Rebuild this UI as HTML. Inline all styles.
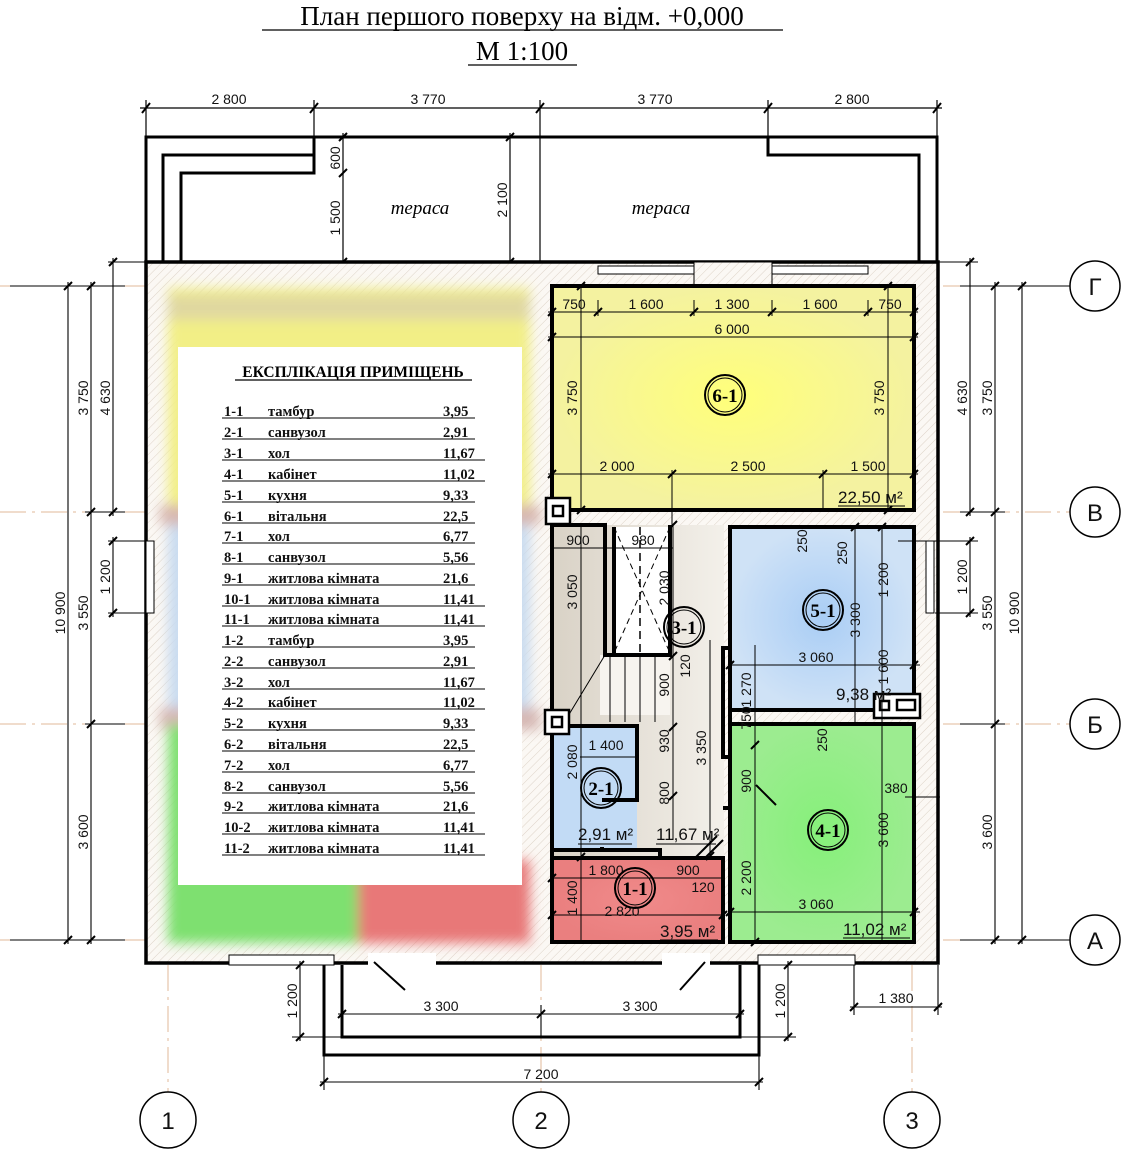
<!DOCTYPE html>
<html><head><meta charset="utf-8">
<style>
html,body{margin:0;padding:0;background:#fff;}
svg{display:block;}
.d{font-family:"Liberation Sans",sans-serif;font-size:14px;fill:#111;}
.t{font-family:"Liberation Serif",serif;font-weight:bold;font-size:14.5px;fill:#111;}
.ax{font-family:"Liberation Sans",sans-serif;font-size:24px;fill:#111;}
</style></head>
<body>
<svg width="1125" height="1164" viewBox="0 0 1125 1164" xmlns="http://www.w3.org/2000/svg">
<defs>
<pattern id="h" width="6" height="6" patternUnits="userSpaceOnUse" patternTransform="rotate(45)">
<rect width="6" height="6" fill="#fbf8f4"/><line x1="0" y1="0" x2="0" y2="6" stroke="#ddd3c8" stroke-width="1"/>
</pattern>
<filter id="bl"><feGaussianBlur stdDeviation="6"/></filter>
<radialGradient id="yg"><stop offset="0" stop-color="#ffff7a"/><stop offset="1" stop-color="#f4f2a0"/></radialGradient>
<radialGradient id="bg"><stop offset="0" stop-color="#a9cdf5"/><stop offset="1" stop-color="#cfe2f6"/></radialGradient>
<radialGradient id="gg"><stop offset="0" stop-color="#86f07a"/><stop offset="1" stop-color="#9cec90"/></radialGradient>
<radialGradient id="rg"><stop offset="0" stop-color="#f08a8a"/><stop offset="1" stop-color="#ea7f7f"/></radialGradient>
<linearGradient id="hg" x1="0" x2="1"><stop offset="0" stop-color="#d9d2c6"/><stop offset="1" stop-color="#f3f0ea"/></linearGradient>
</defs>

<!-- Title -->
<text x="522" y="25" text-anchor="middle" font-family="Liberation Serif,serif" font-size="27">План першого поверху на відм. +0,000</text>
<line x1="262" y1="30" x2="783" y2="30" stroke="#000" stroke-width="1.3"/>
<text x="522" y="60" text-anchor="middle" font-family="Liberation Serif,serif" font-size="27">М 1:100</text>
<line x1="468" y1="65" x2="577" y2="65" stroke="#000" stroke-width="1.3"/>

<g stroke="#000" fill="none" stroke-width="1.2">
<line x1="140" y1="108" x2="942" y2="108"/>
<line x1="146" y1="100" x2="146" y2="137"/><line x1="314" y1="100" x2="314" y2="137"/><line x1="540" y1="100" x2="540" y2="262"/><line x1="768" y1="100" x2="768" y2="137"/><line x1="937" y1="100" x2="937" y2="137"/>
<path d="M142 113L150 103M310 113L318 103M536 113L544 103M764 113L772 103M933 113L941 103" stroke-width="2"/>
</g>
<g class="d" text-anchor="middle"><text x="229" y="104">2 800</text><text x="428" y="104">3 770</text><text x="655" y="104">3 770</text><text x="852" y="104">2 800</text></g>

<!-- terrace -->
<g stroke="#000" fill="none" stroke-width="3">
<path d="M146 262V137H937V262"/>
<path d="M163 262V155H314V137"/>
<path d="M181 262V173H314V155"/>
<path d="M768 137V155H919V262"/>
</g>
<g stroke="#000" stroke-width="1.2" fill="none">
<line x1="343" y1="133" x2="343" y2="262"/><path d="M339 177L347 169M339 141L347 133M339 266L347 258" stroke-width="2"/>
<line x1="510" y1="133" x2="510" y2="262"/><path d="M506 141L514 133M506 266L514 258" stroke-width="2"/>
</g>
<g class="d"><text transform="translate(340,158) rotate(-90)" text-anchor="middle">600</text><text transform="translate(340,218) rotate(-90)" text-anchor="middle">1 500</text><text transform="translate(507,200) rotate(-90)" text-anchor="middle">2 100</text></g>
<text x="420" y="214" text-anchor="middle" font-family="Liberation Serif,serif" font-style="italic" font-size="19">тераса</text>
<text x="661" y="214" text-anchor="middle" font-family="Liberation Serif,serif" font-style="italic" font-size="19">тераса</text>

<!-- axis lines -->
<g stroke="#e2b99a" stroke-width="1" stroke-dasharray="26 6 3 6">
<line x1="0" y1="286" x2="1070" y2="286"/><line x1="0" y1="512" x2="1070" y2="512"/><line x1="0" y1="724" x2="1070" y2="724"/><line x1="0" y1="940" x2="1070" y2="940"/>
<line x1="168" y1="965" x2="168" y2="1092"/><line x1="541" y1="965" x2="541" y2="1092"/><line x1="912" y1="965" x2="912" y2="1092"/>
</g>

<!-- building base -->
<rect x="146" y="262" width="792" height="701" fill="url(#h)"/>
<rect x="146" y="262" width="792" height="701" fill="none" stroke="#000" stroke-width="3.5"/>

<!-- left blurred half -->
<g filter="url(#bl)">
<rect x="168" y="288" width="362" height="222" fill="#f2ef86"/>
<rect x="168" y="520" width="362" height="195" fill="#c9dbf0"/>
<rect x="160" y="505" width="380" height="20" fill="#d8b8b0"/>
<rect x="160" y="708" width="380" height="22" fill="#d6b8b4"/>
<rect x="168" y="725" width="190" height="218" fill="#7ee070"/>
<rect x="358" y="860" width="172" height="83" fill="#e87878"/>
<rect x="168" y="295" width="362" height="25" fill="#e0d8a0"/>
</g>
<rect x="146" y="541" width="8" height="72" fill="#fff" stroke="#000" stroke-width="1"/>

<!-- explication table -->
<rect x="178" y="347" width="344" height="538" fill="#fff"/>
<text x="353" y="377" text-anchor="middle" font-family="Liberation Serif,serif" font-weight="bold" font-size="15.5">ЕКСПЛІКАЦІЯ ПРИМІЩЕНЬ</text>
<line x1="235" y1="380" x2="472" y2="380" stroke="#000" stroke-width="1.2"/>
<g class="t">
<text x="224" y="416">1-1</text><text x="268" y="416">тамбур</text><text x="443" y="416">3,95</text>
<text x="224" y="437">2-1</text><text x="268" y="437">санвузол</text><text x="443" y="437">2,91</text>
<text x="224" y="458">3-1</text><text x="268" y="458">хол</text><text x="443" y="458">11,67</text>
<text x="224" y="479">4-1</text><text x="268" y="479">кабінет</text><text x="443" y="479">11,02</text>
<text x="224" y="500">5-1</text><text x="268" y="500">кухня</text><text x="443" y="500">9,33</text>
<text x="224" y="521">6-1</text><text x="268" y="521">вітальня</text><text x="443" y="521">22,5</text>
<text x="224" y="541">7-1</text><text x="268" y="541">хол</text><text x="443" y="541">6,77</text>
<text x="224" y="562">8-1</text><text x="268" y="562">санвузол</text><text x="443" y="562">5,56</text>
<text x="224" y="583">9-1</text><text x="268" y="583">житлова кімната</text><text x="443" y="583">21,6</text>
<text x="224" y="604">10-1</text><text x="268" y="604">житлова кімната</text><text x="443" y="604">11,41</text>
<text x="224" y="624">11-1</text><text x="268" y="624">житлова кімната</text><text x="443" y="624">11,41</text>
<text x="224" y="645">1-2</text><text x="268" y="645">тамбур</text><text x="443" y="645">3,95</text>
<text x="224" y="666">2-2</text><text x="268" y="666">санвузол</text><text x="443" y="666">2,91</text>
<text x="224" y="687">3-2</text><text x="268" y="687">хол</text><text x="443" y="687">11,67</text>
<text x="224" y="707">4-2</text><text x="268" y="707">кабінет</text><text x="443" y="707">11,02</text>
<text x="224" y="728">5-2</text><text x="268" y="728">кухня</text><text x="443" y="728">9,33</text>
<text x="224" y="749">6-2</text><text x="268" y="749">вітальня</text><text x="443" y="749">22,5</text>
<text x="224" y="770">7-2</text><text x="268" y="770">хол</text><text x="443" y="770">6,77</text>
<text x="224" y="791">8-2</text><text x="268" y="791">санвузол</text><text x="443" y="791">5,56</text>
<text x="224" y="811">9-2</text><text x="268" y="811">житлова кімната</text><text x="443" y="811">21,6</text>
<text x="224" y="832">10-2</text><text x="268" y="832">житлова кімната</text><text x="443" y="832">11,41</text>
<text x="224" y="853">11-2</text><text x="268" y="853">житлова кімната</text><text x="443" y="853">11,41</text>
</g>
<g stroke="#000" stroke-width="1.1">
<line x1="222" y1="418" x2="475" y2="418"/><line x1="222" y1="439" x2="475" y2="439"/><line x1="222" y1="460" x2="485" y2="460"/><line x1="222" y1="481" x2="485" y2="481"/><line x1="222" y1="502" x2="475" y2="502"/><line x1="222" y1="523" x2="475" y2="523"/><line x1="222" y1="543" x2="475" y2="543"/><line x1="222" y1="564" x2="475" y2="564"/><line x1="222" y1="585" x2="475" y2="585"/><line x1="222" y1="606" x2="485" y2="606"/><line x1="222" y1="626" x2="485" y2="626"/><line x1="222" y1="647" x2="475" y2="647"/><line x1="222" y1="668" x2="475" y2="668"/><line x1="222" y1="689" x2="485" y2="689"/><line x1="222" y1="709" x2="485" y2="709"/><line x1="222" y1="730" x2="475" y2="730"/><line x1="222" y1="751" x2="475" y2="751"/><line x1="222" y1="772" x2="475" y2="772"/><line x1="222" y1="793" x2="475" y2="793"/><line x1="222" y1="813" x2="475" y2="813"/><line x1="222" y1="834" x2="485" y2="834"/><line x1="222" y1="855" x2="485" y2="855"/>
</g>

<!-- top windows right half -->
<g stroke="#000" stroke-width="1" fill="#fff">
<rect x="598" y="266" width="96" height="8"/><rect x="772" y="266" width="96" height="8"/>
</g>
<rect x="694" y="262" width="78" height="24" fill="url(#h)" stroke="#000" stroke-width="1"/>

<!-- rooms right half -->
<rect x="552" y="286" width="362" height="224" fill="url(#yg)"/>
<rect x="552" y="525" width="172" height="333" fill="url(#hg)"/>
<rect x="730" y="527" width="184" height="183" fill="url(#bg)"/>
<rect x="730" y="724" width="184" height="218" fill="url(#gg)"/>
<rect x="552" y="726" width="85" height="124" fill="#c2dbf5"/>
<rect x="552" y="858" width="171" height="84" fill="url(#rg)"/>
<rect x="614" y="527" width="56" height="126" fill="#fff"/>
<rect x="600" y="655" width="70" height="60" fill="#f7f4ef"/>

<g stroke="#000" stroke-width="4" fill="none">
<rect x="552" y="286" width="362" height="224"/>
<rect x="730" y="527" width="184" height="183"/>
<rect x="730" y="724" width="184" height="218"/>
<rect x="552" y="858" width="171" height="84"/>
<path d="M552 525H605V655H670V525"/>
<path d="M614 527V653"/>
<path d="M552 525V942"/>
<path d="M552 726H637V800H602M637 850H552M602 850V847"/>
<path d="M552 850H660V858"/>
<path d="M723 648H730V757H723ZM723 808H730V940"/>
</g>
<path d="M614 527L670 653M670 527L614 653" stroke="#000" stroke-width="1" stroke-dasharray="6 4"/>
<line x1="640" y1="527" x2="640" y2="653" stroke="#000" stroke-width="1.5" stroke-dasharray="8 5"/>
<g stroke="#000" stroke-width="1"><line x1="610" y1="655" x2="610" y2="722"/><line x1="625" y1="655" x2="625" y2="722"/><line x1="640" y1="655" x2="640" y2="722"/><line x1="655" y1="655" x2="655" y2="722"/><line x1="562" y1="726" x2="605" y2="655"/></g>

<!-- pillars -->
<g stroke="#000" stroke-width="2.5" fill="#fff">
<rect x="546" y="498" width="24" height="26"/><rect x="553" y="506" width="10" height="10"/>
<rect x="545" y="710" width="24" height="24"/><rect x="552" y="717" width="10" height="10"/>
<rect x="874" y="694" width="46" height="24"/><rect x="880" y="701" width="9" height="9"/><rect x="897" y="700" width="18" height="10"/>
</g>
<rect x="926" y="541" width="8" height="72" fill="#fff" stroke="#000" stroke-width="1"/>

<!-- bottom wall openings -->
<g fill="#fff" stroke="#000" stroke-width="1">
<rect x="229" y="955" width="105" height="10"/><rect x="758" y="955" width="97" height="10"/>
</g>
<rect x="368" y="953" width="68" height="14" fill="#fff"/><rect x="662" y="953" width="48" height="14" fill="#fff"/>
<g stroke="#000" stroke-width="2"><line x1="374" y1="962" x2="405" y2="990"/><line x1="705" y1="962" x2="680" y2="990"/></g>

<!-- inner dims -->
<g stroke="#000" stroke-width="1" fill="none">
<line x1="548" y1="312" x2="918" y2="312"/><line x1="548" y1="337" x2="918" y2="337"/><line x1="548" y1="474" x2="918" y2="474"/>
<line x1="581" y1="286" x2="581" y2="510"/><line x1="888" y1="286" x2="888" y2="510"/>
<line x1="598" y1="300" x2="598" y2="316"/><line x1="694" y1="300" x2="694" y2="316"/><line x1="772" y1="300" x2="772" y2="316"/><line x1="868" y1="300" x2="868" y2="316"/>
<line x1="672" y1="470" x2="672" y2="525"/><line x1="823" y1="470" x2="823" y2="510"/>
<line x1="552" y1="548" x2="673" y2="548"/><line x1="581" y1="525" x2="581" y2="942"/>
<line x1="673" y1="525" x2="673" y2="840"/><line x1="710" y1="640" x2="710" y2="858"/>
<line x1="730" y1="665" x2="920" y2="665"/><line x1="755" y1="645" x2="755" y2="942"/>
<line x1="855" y1="527" x2="855" y2="725"/><line x1="882" y1="527" x2="882" y2="942"/><line x1="898" y1="541" x2="940" y2="541"/>
<line x1="730" y1="912" x2="920" y2="912"/><line x1="552" y1="878" x2="723" y2="878"/><line x1="552" y1="915" x2="723" y2="915"/>
<line x1="580" y1="757" x2="637" y2="757"/><line x1="905" y1="797" x2="940" y2="797"/>
</g>
<g stroke="#000" stroke-width="2">
<path d="M548 316l8-8M594 316l8-8M690 316l8-8M768 316l8-8M864 316l8-8M910 316l8-8M548 341l8-8M910 341l8-8M548 478l8-8M668 478l8-8M819 478l8-8M910 478l8-8M577 290l8-8M884 290l8-8M577 514l8-8M884 514l8-8"/>
<path d="M669 529l8-8M669 660l8-8M669 731l8-8M669 800l8-8M706 860l8-8M726 669l8-8M751 749l8-8M851 531l8-8M878 531l8-8M910 669l8-8M910 916l8-8M726 916l8-8M577 861l8-8M548 882l8-8M548 919l8-8M719 919l8-8M751 946l8-8"/>
<path d="M756 785l20 20"/><path d="M705 858l18 -18M695 858l22 -22"/>
</g>

<g class="d" text-anchor="middle">
<text x="574" y="309">750</text><text x="646" y="309">1 600</text><text x="732" y="309">1 300</text><text x="820" y="309">1 600</text><text x="890" y="309">750</text>
<text x="732" y="334">6 000</text>
<text x="617" y="471">2 000</text><text x="748" y="471">2 500</text><text x="868" y="471">1 500</text>
<text x="578" y="545">900</text><text x="643" y="545">980</text>
<text x="816" y="662">3 060</text><text x="816" y="909">3 060</text>
<text x="606" y="750">1 400</text><text x="606" y="875">1 800</text><text x="688" y="875">900</text>
<text x="622" y="916">2 820</text><text x="703" y="892">120</text><text x="896" y="793">380</text>
</g>
<g class="d" text-anchor="middle">
<text transform="translate(577,398) rotate(-90)">3 750</text>
<text transform="translate(884,398) rotate(-90)">3 750</text>
<text transform="translate(577,592) rotate(-90)">3 050</text>
<text transform="translate(669,588) rotate(-90)">2 030</text>
<text transform="translate(669,685) rotate(-90)">900</text>
<text transform="translate(669,741) rotate(-90)">930</text>
<text transform="translate(669,793) rotate(-90)">800</text>
<text transform="translate(690,666) rotate(-90)">120</text>
<text transform="translate(706,748) rotate(-90)">3 350</text>
<text transform="translate(751,690) rotate(-90)">1 270</text>
<text transform="translate(751,718) rotate(-90)">750</text>
<text transform="translate(751,781) rotate(-90)">900</text>
<text transform="translate(751,878) rotate(-90)">2 200</text>
<text transform="translate(577,762) rotate(-90)">2 080</text>
<text transform="translate(577,898) rotate(-90)">1 400</text>
<text transform="translate(807,541) rotate(-90)">250</text>
<text transform="translate(847,553) rotate(-90)">250</text>
<text transform="translate(827,740) rotate(-90)">250</text>
<text transform="translate(860,620) rotate(-90)">3 300</text>
<text transform="translate(888,580) rotate(-90)">1 200</text>
<text transform="translate(888,667) rotate(-90)">1 600</text>
<text transform="translate(888,830) rotate(-90)">3 600</text>
</g>

<g font-family="Liberation Sans,sans-serif" font-size="17" fill="#111">
<text x="838" y="503">22,50 м²</text><line x1="838" y1="506" x2="905" y2="506" stroke="#000"/>
<text x="836" y="700">9,38 м²</text>
<text x="578" y="840">2,91 м²</text><line x1="578" y1="844" x2="632" y2="844" stroke="#000"/>
<text x="656" y="840">11,67 м²</text><line x1="656" y1="844" x2="716" y2="844" stroke="#000"/>
<text x="660" y="937">3,95 м²</text><line x1="660" y1="940" x2="718" y2="940" stroke="#000"/>
<text x="843" y="935">11,02 м²</text><line x1="843" y1="938" x2="910" y2="938" stroke="#000"/>
</g>

<g stroke="#000" fill="none">
<circle cx="725" cy="395" r="20" stroke-width="2"/><circle cx="725" cy="395" r="17" stroke-width="1"/>
<circle cx="684" cy="627" r="20" stroke-width="2"/><circle cx="684" cy="627" r="17" stroke-width="1"/>
<circle cx="823" cy="610" r="20" stroke-width="2"/><circle cx="823" cy="610" r="17" stroke-width="1"/>
<circle cx="601" cy="788" r="20" stroke-width="2"/><circle cx="601" cy="788" r="17" stroke-width="1"/>
<circle cx="828" cy="830" r="20" stroke-width="2"/><circle cx="828" cy="830" r="17" stroke-width="1"/>
<circle cx="635" cy="888" r="20" stroke-width="2"/><circle cx="635" cy="888" r="17" stroke-width="1"/>
</g>
<g font-family="Liberation Serif,serif" font-weight="bold" font-size="19" text-anchor="middle" fill="#000">
<text x="725" y="402">6-1</text><text x="684" y="634">3-1</text><text x="823" y="617">5-1</text><text x="601" y="795">2-1</text><text x="828" y="837">4-1</text><text x="635" y="895">1-1</text>
</g>

<g stroke="#000" stroke-width="1.1" fill="none">
<line x1="68" y1="282" x2="68" y2="944"/><line x1="91" y1="282" x2="91" y2="944"/><line x1="113" y1="258" x2="113" y2="516"/><line x1="113" y1="537" x2="113" y2="617"/>
<line x1="10" y1="286" x2="125" y2="286"/><line x1="10" y1="940" x2="125" y2="940"/><line x1="85" y1="512" x2="125" y2="512"/><line x1="85" y1="724" x2="125" y2="724"/>
<line x1="108" y1="262" x2="146" y2="262"/><line x1="108" y1="541" x2="146" y2="541"/><line x1="108" y1="613" x2="146" y2="613"/>
<line x1="1022" y1="282" x2="1022" y2="944"/><line x1="995" y1="282" x2="995" y2="944"/><line x1="970" y1="258" x2="970" y2="516"/><line x1="970" y1="537" x2="970" y2="617"/>
<line x1="960" y1="286" x2="1070" y2="286"/><line x1="960" y1="940" x2="1070" y2="940"/><line x1="960" y1="512" x2="1005" y2="512"/><line x1="960" y1="724" x2="1005" y2="724"/>
<line x1="938" y1="262" x2="978" y2="262"/><line x1="935" y1="541" x2="978" y2="541"/><line x1="935" y1="613" x2="978" y2="613"/>
</g>
<g stroke="#000" stroke-width="2">
<path d="M64 290l8-8M64 944l8-8M87 290l8-8M87 516l8-8M87 728l8-8M87 944l8-8M109 266l8-8M109 516l8-8M109 545l8-8M109 617l8-8"/>
<path d="M1018 290l8-8M1018 944l8-8M991 290l8-8M991 516l8-8M991 728l8-8M991 944l8-8M966 266l8-8M966 516l8-8M966 545l8-8M966 617l8-8"/>
</g>
<g class="d" text-anchor="middle">
<text transform="translate(88,398) rotate(-90)">3 750</text><text transform="translate(110,398) rotate(-90)">4 630</text>
<text transform="translate(65,613) rotate(-90)">10 900</text><text transform="translate(88,613) rotate(-90)">3 550</text>
<text transform="translate(110,577) rotate(-90)">1 200</text><text transform="translate(88,832) rotate(-90)">3 600</text>
<text transform="translate(992,398) rotate(-90)">3 750</text><text transform="translate(967,398) rotate(-90)">4 630</text>
<text transform="translate(1019,613) rotate(-90)">10 900</text><text transform="translate(992,613) rotate(-90)">3 550</text>
<text transform="translate(967,577) rotate(-90)">1 200</text><text transform="translate(992,832) rotate(-90)">3 600</text>
</g>

<!-- porch -->
<g stroke="#000" stroke-width="3" fill="none">
<path d="M324 965V1055H759V965"/>
<path d="M342 965V1037H740V965"/>
</g>
<g stroke="#000" stroke-width="1.1" fill="none">
<line x1="300" y1="961" x2="300" y2="1041"/><line x1="292" y1="965" x2="324" y2="965"/><line x1="292" y1="1037" x2="342" y2="1037"/>
<line x1="788" y1="961" x2="788" y2="1041"/><line x1="759" y1="965" x2="796" y2="965"/><line x1="740" y1="1037" x2="796" y2="1037"/>
<line x1="338" y1="1014" x2="744" y2="1014"/><line x1="541" y1="1005" x2="541" y2="1037"/>
<line x1="320" y1="1082" x2="763" y2="1082"/><line x1="324" y1="1055" x2="324" y2="1090"/><line x1="759" y1="1055" x2="759" y2="1090"/>
<line x1="850" y1="1007" x2="942" y2="1007"/><line x1="854" y1="965" x2="854" y2="1015"/><line x1="938" y1="965" x2="938" y2="1015"/>
</g>
<g stroke="#000" stroke-width="2">
<path d="M296 969l8-8M296 1041l8-8M784 969l8-8M784 1041l8-8M338 1018l8-8M537 1018l8-8M736 1018l8-8M320 1086l8-8M755 1086l8-8M850 1011l8-8M934 1011l8-8"/>
</g>
<g class="d" text-anchor="middle">
<text transform="translate(297,1001) rotate(-90)">1 200</text><text transform="translate(785,1001) rotate(-90)">1 200</text>
<text x="441" y="1011">3 300</text><text x="640" y="1011">3 300</text><text x="541" y="1079">7 200</text><text x="896" y="1003">1 380</text>
</g>

<g stroke="#000" stroke-width="1.5" fill="#fff">
<circle cx="1095" cy="286" r="25"/><circle cx="1095" cy="512" r="25"/><circle cx="1095" cy="724" r="25"/><circle cx="1095" cy="940" r="25"/>
<circle cx="168" cy="1120" r="28"/><circle cx="541" cy="1120" r="28"/><circle cx="912" cy="1120" r="28"/>
</g>
<g class="ax" text-anchor="middle">
<text x="1095" y="295">Г</text><text x="1095" y="521">В</text><text x="1095" y="733">Б</text><text x="1095" y="949">А</text>
<text x="168" y="1129">1</text><text x="541" y="1129">2</text><text x="912" y="1129">3</text>
</g>
</svg>
</body></html>
